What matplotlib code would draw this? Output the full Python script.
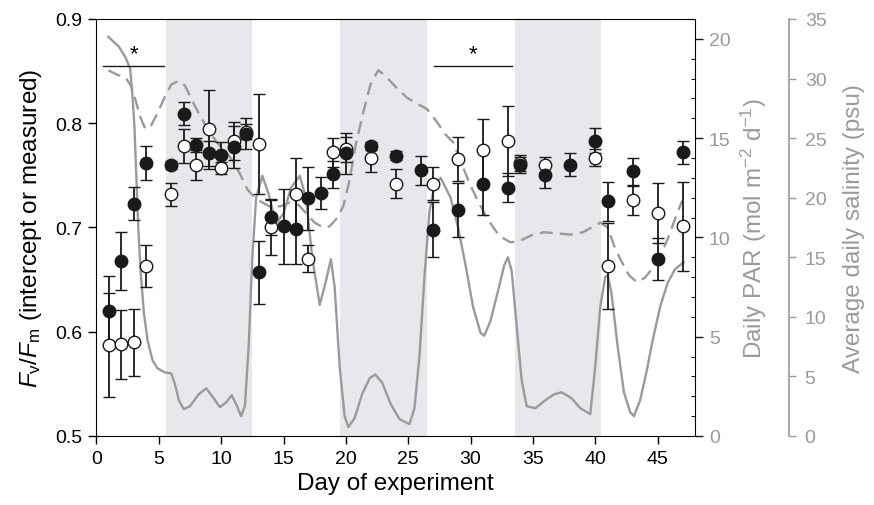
import numpy as np
import matplotlib
matplotlib.use("Agg")
from matplotlib import pyplot as plt
from matplotlib.ticker import MultipleLocator, FormatStrFormatter

plt.rcParams['font.family'] = ['Liberation Sans', 'DejaVu Sans']
plt.rcParams['mathtext.fontset'] = 'custom'
plt.rcParams['mathtext.rm'] = 'Liberation Sans'
plt.rcParams['mathtext.it'] = 'Liberation Sans:italic'

# Fv/Fm, filled symbols (intercept)
days_filled = [1, 2, 3, 4, 6, 7, 8, 9, 10, 11, 12, 13, 14, 15, 16, 17, 18, 19, 20,
               22, 24, 26, 27, 29, 31, 33, 34, 36, 38, 40, 41, 43, 45, 47]
fvfm_filled = [0.620, 0.668, 0.723, 0.762, 0.760, 0.809, 0.779, 0.771, 0.770, 0.777,
               0.790, 0.657, 0.710, 0.701, 0.699, 0.728, 0.733, 0.751, 0.771,
               0.778, 0.769, 0.755, 0.698, 0.717, 0.742, 0.738, 0.760, 0.750,
               0.760, 0.783, 0.725, 0.754, 0.670, 0.772]
err_filled = [0.033, 0.028, 0.016, 0.016, 0.004, 0.011, 0.007, 0.012, 0.012, 0.020,
              0.015, 0.030, 0.017, 0.036, 0.034, 0.030, 0.015, 0.013, 0.020,
              0.004, 0.004, 0.014, 0.026, 0.026, 0.030, 0.014, 0.008, 0.012,
              0.011, 0.012, 0.019, 0.013, 0.020, 0.011]

# Fv/Fm, open symbols (measured)
days_open = [1, 2, 3, 4, 6, 7, 8, 9, 10, 11, 12, 13, 14, 16, 17, 19, 20,
             22, 24, 27, 29, 31, 33, 34, 36, 40, 41, 43, 45, 47]
fvfm_open = [0.587, 0.588, 0.590, 0.663, 0.732, 0.778, 0.760, 0.794, 0.757, 0.783,
             0.792, 0.780, 0.700, 0.732, 0.670, 0.772, 0.775,
             0.767, 0.742, 0.742, 0.766, 0.774, 0.783, 0.762, 0.760, 0.767,
             0.663, 0.726, 0.714, 0.701]
err_open = [0.050, 0.033, 0.032, 0.020, 0.011, 0.016, 0.014, 0.038, 0.006, 0.018,
            0.007, 0.048, 0.026, 0.035, 0.013, 0.014, 0.012,
            0.014, 0.014, 0.016, 0.021, 0.030, 0.034, 0.008, 0.008, 0.008,
            0.041, 0.014, 0.029, 0.043]

# daily PAR (solid line)
par_days = [0.95, 1.8, 2.3, 2.7, 2.9, 3.05, 3.2, 3.35, 3.55, 3.8, 4.1, 4.5, 4.9, 5.5,
            6.0, 6.3, 6.6, 7.0, 7.5, 8.2, 8.8, 9.4, 9.9, 10.4, 10.85, 11.2, 11.6,
            11.9, 12.2, 12.5, 12.8, 13.3, 13.8, 14.4, 15.0, 15.6, 16.3, 16.8, 17.3,
            17.9, 18.4, 18.8, 19.1, 19.5, 19.9, 20.2, 20.7, 21.3, 21.9, 22.35, 22.9,
            23.6, 24.3, 25.1, 25.5, 25.9, 26.3, 26.7, 27.1, 27.6, 28.4, 29.0, 29.6,
            30.2, 30.8, 31.1, 31.6, 32.2, 32.7, 33.0, 33.3, 33.7, 34.1, 34.5, 35.2,
            36.0, 36.7, 37.3, 38.1, 38.8, 39.6, 40.0, 40.4, 40.8, 41.0, 41.3, 41.8,
            42.3, 42.8, 43.1, 43.6, 44.1, 44.6, 45.2, 45.8, 46.4, 47.1]
par_vals = [20.1, 19.6, 19.1, 18.5, 17.0, 15.5, 13.0, 10.5, 8.2, 6.2, 4.8, 3.8, 3.4, 3.2,
            3.15, 2.6, 1.8, 1.35, 1.5, 2.1, 2.4, 1.9, 1.45, 1.7, 2.05, 1.6, 1.0,
            1.5, 4.5, 9.0, 12.0, 13.1, 12.2, 10.7, 11.2, 12.5, 13.1, 12.0, 9.0,
            6.6, 7.8, 8.9, 7.5, 3.5, 1.0, 0.45, 0.9, 2.1, 2.9, 3.1, 2.7,
            1.6, 0.85, 0.6, 1.4, 4.0, 8.0, 11.3, 12.6, 13.0, 12.0, 10.5, 8.6,
            6.5, 5.2, 5.05, 5.8, 7.3, 8.6, 9.0, 8.3, 5.5, 2.8, 1.5, 1.4,
            1.8, 2.1, 2.2, 1.9, 1.4, 1.1, 3.5, 6.5, 8.0, 8.1, 7.2, 4.5,
            2.2, 1.2, 1.0, 1.8, 3.2, 4.8, 6.5, 7.7, 8.4, 8.75]

# average daily salinity (dashed line)
sal_days = [0.95, 1.5, 2.4, 2.8, 3.1, 3.5, 3.9, 4.3, 4.8, 5.5, 6.0, 6.6, 7.1, 7.7, 8.3,
            9.0, 9.7, 10.4, 11.0, 11.6, 12.1, 12.7, 13.3, 14.0, 14.8, 15.5, 16.2,
            16.9, 17.5, 18.2, 18.7, 19.3, 19.8, 20.3, 20.8, 21.4, 22.0, 22.6, 23.2,
            23.9, 24.9, 25.7, 26.5, 27.2, 28.0, 28.6, 29.3, 30.0, 30.8, 31.5, 32.3,
            33.2, 34.0, 35.0, 35.9, 37.0, 38.0, 39.0, 40.4, 41.0, 41.5, 42.0, 42.7,
            43.35, 44.0, 45.0, 45.8, 46.5, 46.97]
sal_vals = [30.7, 30.4, 30.0, 29.3, 28.3, 26.8, 25.8, 25.9, 26.9, 28.5, 29.5, 29.8, 29.4,
            28.1, 26.9, 25.6, 24.6, 23.8, 23.0, 21.8, 20.7, 20.0, 19.6, 19.2, 19.3,
            19.6, 19.4, 18.6, 17.9, 17.5, 17.6, 18.3, 19.3, 21.5, 24.5, 27.2, 29.6,
            30.7, 30.2, 29.4, 28.4, 27.9, 27.45, 26.5, 25.3, 24.65, 22.8, 21.0, 19.3,
            18.0, 16.8, 16.25, 16.4, 16.9, 17.1, 17.0, 16.9, 17.1, 17.9, 17.5, 16.0,
            14.85, 13.5, 12.9, 13.3, 14.6, 16.5, 18.5, 19.75]

# shaded periods and significance bars
shade_periods = [(5.55, 12.5), (19.55, 26.5), (33.55, 40.5)]
sig_bars = [(0.55, 5.4), (27.1, 33.3)]

gray = '#9a9a9a'
ink = '#1a1a1a'

fig = plt.figure(figsize=(8.74, 5.06), dpi=100)
ax = fig.add_axes([0.1104, 0.1364, 0.6848, 0.8241])
ax_par = ax.twinx()
ax_sal = ax.twinx()

ax_sal.set_zorder(1)
ax_par.set_zorder(2)
ax.set_zorder(3)
ax.patch.set_visible(False)
ax_par.patch.set_visible(False)

# shading on the bottom-most axes so that lines and points sit above it
for a, b in shade_periods:
    ax_sal.axvspan(a, b, color='#e7e8eb', lw=0, zorder=0)

ax_sal.plot(sal_days, sal_vals, color=gray, lw=1.7, dashes=(5.5, 3))
ax_par.plot(par_days, par_vals, color=gray, lw=1.7)

ax.errorbar(days_open, fvfm_open, yerr=err_open, fmt='o', mfc='white', mec=ink,
            ecolor=ink, ms=9, mew=1.0, elinewidth=1.3, capsize=4.5, capthick=1.3)
ax.errorbar(days_filled, fvfm_filled, yerr=err_filled, fmt='o', mfc=ink, mec=ink,
            ecolor=ink, ms=9, mew=1.0, elinewidth=1.3, capsize=4.5, capthick=1.3)

for x0, x1 in sig_bars:
    ax.plot([x0, x1], [0.855, 0.855], color=ink, lw=1.0)
    ax.text((x0 + x1) / 2, 0.857, '*', ha='center', va='bottom', fontsize=16)

ax.set_xlim(0, 48)
ax.set_ylim(0.5, 0.9)
ax.xaxis.set_major_locator(MultipleLocator(5))
ax.yaxis.set_major_locator(MultipleLocator(0.1))
ax.yaxis.set_major_formatter(FormatStrFormatter('%.1f'))
ax.tick_params(axis='both', direction='out', length=6, width=1, labelsize=14, pad=4)
ax.tick_params(axis='y', right=False)
ax.set_xlabel('Day of experiment', fontsize=17.5, labelpad=4)
ax.set_ylabel(r'$\mathit{F}_\mathrm{v}/\mathit{F}_\mathrm{m}$ (intercept or measured)',
              fontsize=17.5, labelpad=8)
ax.spines['right'].set_visible(False)

ax_par.set_ylim(0, 21)
ax_par.yaxis.set_major_locator(MultipleLocator(5))
ax_par.yaxis.set_minor_locator(MultipleLocator(1))
ax_par.tick_params(axis='y', which='major', direction='out', length=6, width=1,
                   labelsize=14, labelcolor=gray, color=ink, pad=4)
ax_par.tick_params(axis='y', which='minor', direction='in', length=3, width=0.8, color=ink)
ax_par.set_ylabel(r'Daily PAR (mol m$^{-2}$ d$^{-1}$)', color=gray, fontsize=17.5, labelpad=6)
for s in ['left', 'top', 'bottom']:
    ax_par.spines[s].set_visible(False)

ax_sal.set_ylim(0, 35)
ax_sal.yaxis.set_major_locator(MultipleLocator(5))
ax_sal.spines['right'].set_position(('outward', 68))
ax_sal.spines['right'].set_color(gray)
ax_sal.spines['right'].set_linewidth(1.2)
ax_sal.tick_params(axis='y', direction='out', length=5, width=1, color=gray,
                   labelsize=14, labelcolor=gray, pad=6)
ax_sal.set_ylabel('Average daily salinity (psu)', color=gray, fontsize=17.5, labelpad=12)
for s in ['left', 'top', 'bottom']:
    ax_sal.spines[s].set_visible(False)

fig.savefig('out.png', dpi=100)
